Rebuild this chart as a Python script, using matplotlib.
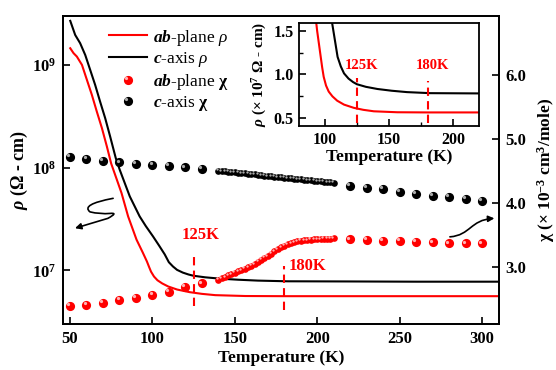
import math
import matplotlib
matplotlib.use("Agg")
import matplotlib.pyplot as plt
from matplotlib import transforms
from matplotlib.path import Path
from matplotlib.patches import FancyArrowPatch
from matplotlib.lines import Line2D
from matplotlib.legend_handler import HandlerBase
from matplotlib.ticker import FixedLocator, FuncFormatter, MultipleLocator

plt.rcParams['font.family'] = 'Liberation Serif'
plt.rcParams['mathtext.fontset'] = 'custom'
plt.rcParams['mathtext.rm'] = 'Liberation Serif'
plt.rcParams['mathtext.it'] = 'Liberation Serif:italic'
plt.rcParams['mathtext.bf'] = 'Liberation Serif:bold'
plt.rcParams['mathtext.bfit'] = 'Liberation Serif:italic:bold'

# --- resistivity (Ohm cm) ---
T_ab = [50.2, 52.2, 54.2, 57.3, 60.3, 63.3, 66.3, 69.4, 72.4, 75.0, 81.3, 85.3,
        90.4, 94.1, 96.7, 98.0, 99.2, 101.0, 103.1, 106.0, 109.7, 115.0, 122.6,
        130.0, 138.2, 156.4, 180.0, 220.0, 260.0, 310.0]
rho_ab = [1.455e9, 1.303e9, 1.208e9, 1.002e9, 7.16e8, 5.12e8, 3.52e8, 2.43e8,
          1.61e8, 1.10e8, 5.66e7, 3.35e7, 1.99e7, 1.50e7, 1.22e7, 1.08e7, 0.97e7,
          0.87e7, 0.80e7, 0.745e7, 0.695e7, 0.65e7, 0.613e7, 0.59e7, 0.573e7,
          0.562e7, 0.56e7, 0.56e7, 0.56e7, 0.56e7]

T_c = [50.2, 53.2, 56.2, 59.3, 62.3, 65.3, 68.3, 71.4, 74.4, 77.8, 80.2, 86.3,
       92.3, 96.0, 100.4, 104.0, 107.5, 110.0, 112.5, 115.0, 118.5, 122.0, 125.0,
       132.0, 141.0, 152.0, 164.0, 182.0, 220.0, 260.0, 310.0]
rho_c = [2.69e9, 1.96e9, 1.63e9, 1.25e9, 8.95e8, 6.40e8, 4.40e8, 3.03e8, 2.01e8,
         1.24e8, 9.55e7, 5.25e7, 3.35e7, 2.70e7, 2.14e7, 1.75e7, 1.43e7, 1.20e7,
         1.09e7, 1.01e7, 0.95e7, 0.91e7, 0.885e7, 0.855e7, 0.83e7, 0.81e7,
         0.794e7, 0.782e7, 0.779e7, 0.775e7, 0.775e7]

# --- susceptibility (10^-3 cm^3/mole) ---
T_lo = [50, 60, 70, 80, 90, 100, 110, 120, 130]
T_dense = list(range(140, 211, 2))
T_hi = [220, 230, 240, 250, 260, 270, 280, 290, 300]

chi_ab_lo = [2.397, 2.417, 2.449, 2.491, 2.526, 2.575, 2.620, 2.693, 2.751]
chi_ab_dense = [2.81, 2.83, 2.85, 2.875, 2.90, 2.92, 2.94, 2.96, 2.98, 3.00,
                3.025, 3.055, 3.09, 3.12, 3.15, 3.18, 3.215, 3.255, 3.285, 3.315,
                3.34, 3.36, 3.38, 3.395, 3.405, 3.415, 3.422, 3.428, 3.433, 3.437,
                3.44, 3.443, 3.445, 3.447, 3.449, 3.45]
chi_ab_hi = [3.436, 3.425, 3.414, 3.41, 3.394, 3.389, 3.374, 3.374, 3.374]

chi_c_lo = [4.715, 4.682, 4.66, 4.632, 4.612, 4.594, 4.577, 4.556, 4.530]
chi_c_dense = [4.505, 4.499, 4.494, 4.489, 4.483, 4.478, 4.472, 4.467, 4.461,
               4.456, 4.451, 4.445, 4.440, 4.434, 4.429, 4.423, 4.418, 4.413,
               4.407, 4.402, 4.396, 4.391, 4.385, 4.380, 4.375, 4.369, 4.364,
               4.358, 4.353, 4.347, 4.342, 4.337, 4.331, 4.326, 4.321, 4.318]
chi_c_hi = [4.271, 4.24, 4.215, 4.178, 4.142, 4.115, 4.09, 4.064, 4.033]

# transition temperatures marked on the curves
T_marks = [125, 180]
mark_labels = ['125K', '180K']

RED = '#ff0000'
RED_SHINE = '#ffc8c8'
BLACK_SHINE = '#c0c0c0'
DASH = (0, (4, 2.5))


def spheres(ax, x, y, color, shine, ms):
    """Shaded ball markers: a solid disc plus a small highlight up-left."""
    ax.plot(x, y, 'o', ms=ms, color=color, mew=0, zorder=3)
    hl = transforms.offset_copy(ax.transData, fig=ax.figure,
                                x=-0.2 * ms, y=0.2 * ms, units='points')
    ax.plot(x, y, 'o', ms=0.35 * ms, color=shine, mew=0, alpha=0.9,
            transform=hl, zorder=4)


class SphereHandler(HandlerBase):
    def __init__(self, shine):
        super().__init__()
        self.shine = shine

    def create_artists(self, legend, orig_handle, xdescent, ydescent,
                       width, height, fontsize, trans):
        cx = 0.5 * width - xdescent
        cy = 0.5 * height - ydescent
        ms = orig_handle.get_markersize()
        base = Line2D([cx], [cy], marker='o', ms=ms, mew=0,
                      color=orig_handle.get_color(), transform=trans)
        hi = Line2D([cx - 0.2 * ms], [cy + 0.2 * ms], marker='o', ms=0.35 * ms,
                    mew=0, color=self.shine, alpha=0.9, transform=trans)
        return [base, hi]


fig = plt.figure(figsize=(5.56, 3.70), dpi=100)
ax = fig.add_axes([0.1133, 0.1243, 0.7837, 0.8325])
ax2 = ax.twinx()

# resistivity curves
ln_ab, = ax.plot(T_ab, rho_ab, color=RED, lw=1.5)
ln_c, = ax.plot(T_c, rho_c, color='black', lw=1.5)
ax.set_yscale('log')
ax.set_xlim(45.8, 310.1)
ax.set_ylim(3e6, 3e9)
ax.xaxis.set_major_locator(MultipleLocator(50))
ax.yaxis.set_major_locator(FixedLocator([1e7, 1e8, 1e9]))
ax.yaxis.set_minor_locator(FixedLocator([]))
ax.yaxis.set_major_formatter(
    FuncFormatter(lambda v, p: r'$\mathbf{10^{%d}}$' % round(math.log10(v))))

ax.vlines(T_marks[0], 4.5e6, 1.5e7, color=RED, lw=1.5, linestyles=DASH)
ax.vlines(T_marks[1], 4.15e6, 1.11e7, color=RED, lw=1.5, linestyles=DASH)
ax.text(T_marks[0] + 4.5, 2.22e7, mark_labels[0], color=RED, fontsize=12,
        fontweight='bold', ha='center', va='center')
ax.text(T_marks[1] + 2.7, 1.09e7, mark_labels[1], color=RED, fontsize=12,
        fontweight='bold', ha='left', va='center')

# susceptibility balls
spheres(ax2, T_lo, chi_ab_lo, RED, RED_SHINE, 6.6)
spheres(ax2, T_dense, chi_ab_dense, RED, RED_SHINE, 4.8)
spheres(ax2, T_hi, chi_ab_hi, RED, RED_SHINE, 6.6)
spheres(ax2, T_lo, chi_c_lo, 'black', BLACK_SHINE, 6.6)
spheres(ax2, T_dense, chi_c_dense, 'black', BLACK_SHINE, 4.8)
spheres(ax2, T_hi, chi_c_hi, 'black', BLACK_SHINE, 6.6)
ax2.set_ylim(2.12, 6.91)
ax2.yaxis.set_major_locator(MultipleLocator(1.0))
ax2.yaxis.set_major_formatter(FuncFormatter(lambda v, p: '%.1f' % v))

for a in (ax, ax2):
    a.tick_params(direction='in', length=5, width=1.2, labelsize=12, pad=5)
    for lab in a.get_xticklabels() + a.get_yticklabels():
        lab.set_fontweight('bold')
    for sp in a.spines.values():
        sp.set_linewidth(1.3)

ax.set_xlabel('Temperature (K)', fontsize=12.5, fontweight='bold', labelpad=2)
ax.set_ylabel(r'$\mathbfit{\rho}$ ($\mathbf{\Omega}$ - cm)', fontsize=13,
              fontweight='bold', labelpad=1)
ax2.set_ylabel(r'$\mathbf{\chi}$ (× 10$^{\mathbf{-3}}$ cm$^{\mathbf{3}}$/mole)',
               fontsize=12.5, fontweight='bold', labelpad=6)

# axis-pointer arrows
wave = Path([(0.115, 0.408), (0.040, 0.388), (0.062, 0.364), (0.085, 0.356),
             (0.108, 0.359), (0.128, 0.362), (0.103, 0.343), (0.0275, 0.311)],
            [Path.MOVETO, Path.CURVE3, Path.CURVE3, Path.CURVE3, Path.CURVE3,
             Path.CURVE3, Path.CURVE3, Path.LINETO])
ax.add_patch(FancyArrowPatch(path=wave, arrowstyle='-|>', mutation_scale=9,
                             lw=1.2, color='black', transform=ax.transAxes))
swoop = Path([(0.888, 0.283), (0.935, 0.288), (0.935, 0.338), (0.99, 0.343)],
             [Path.MOVETO, Path.CURVE4, Path.CURVE4, Path.CURVE4])
ax2.add_patch(FancyArrowPatch(path=swoop, arrowstyle='-|>', mutation_scale=9,
                              lw=1.2, color='black', transform=ax2.transAxes))

# legend
h_chi_ab = Line2D([], [], marker='o', ms=6.6, color=RED, ls='none')
h_chi_c = Line2D([], [], marker='o', ms=6.6, color='black', ls='none')
leg = ax2.legend([ln_ab, ln_c, h_chi_ab, h_chi_c],
                 [r'$\mathbfit{ab}$-plane $\mathit{\rho}$',
                  r'$\mathbfit{c}$-axis $\mathit{\rho}$',
                  r'$\mathbfit{ab}$-plane $\mathbf{\chi}$',
                  r'$\mathbfit{c}$-axis $\mathbf{\chi}$'],
                 handler_map={h_chi_ab: SphereHandler(RED_SHINE),
                              h_chi_c: SphereHandler(BLACK_SHINE)},
                 loc='upper left', bbox_to_anchor=(0.09, 0.985), frameon=False,
                 fontsize=12.5, handlelength=2.2, handletextpad=0.3,
                 labelspacing=0.15, borderaxespad=0)

# inset: low-resistivity region on a linear scale
axi = fig.add_axes([0.5378, 0.6586, 0.3237, 0.2792])
axi.plot(T_ab, [r / 1e7 for r in rho_ab], color=RED, lw=1.5)
axi.plot(T_c, [r / 1e7 for r in rho_c], color='black', lw=1.5)
axi.set_xlim(80, 220)
axi.set_ylim(0.4, 1.59)
axi.xaxis.set_major_locator(MultipleLocator(50))
axi.xaxis.set_minor_locator(MultipleLocator(25))
axi.yaxis.set_major_locator(MultipleLocator(0.5))
axi.yaxis.set_minor_locator(MultipleLocator(0.25))
axi.yaxis.set_major_formatter(FuncFormatter(lambda v, p: '%.1f' % v))
axi.tick_params(which='major', direction='in', length=5, width=1.2,
                labelsize=11.5, pad=4)
axi.tick_params(which='minor', direction='in', length=3, width=1.0)
for lab in axi.get_xticklabels() + axi.get_yticklabels():
    lab.set_fontweight('bold')
for sp in axi.spines.values():
    sp.set_linewidth(1.3)
axi.vlines(T_marks[0], 0.44, 0.955, color=RED, lw=1.5, linestyles=DASH)
axi.vlines(T_marks[1], 0.44, 0.92, color=RED, lw=1.5, linestyles=DASH)
axi.text(T_marks[0] + 3.4, 1.097, mark_labels[0], color=RED, fontsize=10.5,
         fontweight='bold', ha='center', va='center')
axi.text(T_marks[1] + 3.6, 1.097, mark_labels[1], color=RED, fontsize=10.5,
         fontweight='bold', ha='center', va='center')
axi.set_xlabel('Temperature (K)', fontsize=12.5, fontweight='bold', labelpad=1)
axi.set_ylabel(r'$\mathbfit{\rho}$ (× 10$^{\mathbf{7}}$ $\mathbf{\Omega}$ - cm)',
               fontsize=11, fontweight='bold', labelpad=3)

fig.savefig('out.png', dpi=100)
